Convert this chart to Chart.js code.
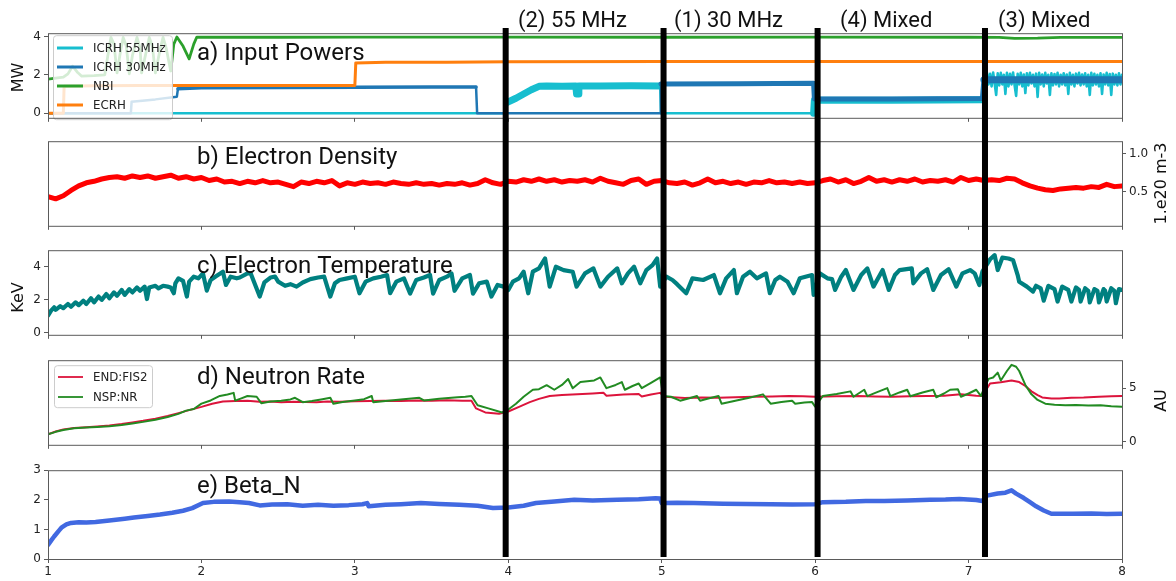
<!DOCTYPE html>
<html>
<head>
<meta charset="utf-8">
<script src="https://cdn.jsdelivr.net/npm/chart.js@4.4.1/dist/chart.umd.min.js"></script>
<style>
  html, body { margin: 0; padding: 0; background: #ffffff; }
  #wrap { position: relative; width: 1176px; height: 581px; overflow: hidden; background: #ffffff; }
  #wrap canvas { position: absolute; left: 0; }
</style>
</head>
<body>
<div id="wrap">
  <canvas id="pa" width="1176" height="105" style="top:23px"></canvas>
  <canvas id="pb" width="1176" height="105" style="top:131px"></canvas>
  <canvas id="pc" width="1176" height="105" style="top:240px"></canvas>
  <canvas id="pd" width="1176" height="105" style="top:350px"></canvas>
  <canvas id="pe" width="1176" height="121" style="top:460px"></canvas>
  <canvas id="ov" width="1176" height="581" style="top:0px"></canvas>
</div>
<script>
// ---------------- data ----------------
const xTicks = [1, 2, 3, 4, 5, 6, 7, 8];

const modeLabels = ['(2) 55 MHz', '(1) 30 MHz', '(4) Mixed', '(3) Mixed'];
const modeLineX = [3.983, 5.012, 6.016, 7.107];
const modeLabelX = [4.063, 5.080, 6.162, 7.192];

// a) input powers (MW)
const icrh55 = [[1.00,0],[3.985,0],[3.99,0.55],[4.05,0.78],[4.10,1.00],[4.15,1.22],[4.20,1.40],[4.25,1.42],[4.35,1.40],[4.44,1.42],[4.445,1.00],[4.455,1.00],[4.46,1.42],[4.60,1.42],[4.80,1.43],[4.99,1.42],[4.995,0],[5.99,0],[5.995,0.68],[6.50,0.68],[7.09,0.70],
  [7.10,0.70],[7.105,1.90],[7.11,1.45],[7.12,2.10],[7.13,1.50],[7.14,2.05],[7.15,1.40],[7.16,2.12],[7.17,1.55],[7.18,0.95],[7.19,2.08],[7.20,1.45],[7.21,2.10],[7.22,1.50],[7.23,2.00],[7.24,1.00],[7.25,2.10],[7.26,1.40],[7.27,2.05],[7.28,1.50],[7.29,2.12],[7.30,1.45],[7.31,0.90],[7.32,2.05],[7.33,1.50],[7.34,2.10],[7.35,1.40],[7.36,2.02],[7.37,1.05],[7.38,2.08],[7.39,1.45],[7.40,2.10],[7.41,1.55],[7.42,2.00],[7.43,1.40],[7.44,2.06],[7.45,0.85],[7.46,2.10],[7.47,1.50],[7.48,2.02],[7.49,1.40],[7.50,2.10],[7.51,1.55],[7.52,2.00],[7.53,0.95],[7.54,2.08],[7.55,1.45],[7.56,2.04],[7.57,1.50],[7.58,2.10],[7.59,1.40],[7.60,2.00],[7.61,1.50],[7.62,2.08],[7.63,1.45],[7.64,2.02],[7.65,1.00],[7.66,2.10],[7.67,1.50],[7.68,2.00],[7.69,1.40],[7.70,2.06],[7.71,1.55],[7.72,2.10],[7.73,1.45],[7.74,2.02],[7.75,1.50],[7.76,2.08],[7.77,1.40],[7.78,2.00],[7.79,0.95],[7.80,2.10],[7.81,1.45],[7.82,2.05],[7.83,1.50],[7.84,2.00],[7.85,1.40],[7.86,2.08],[7.87,1.00],[7.88,2.02],[7.89,1.50],[7.90,2.10],[7.91,1.45],[7.92,2.04],[7.93,0.95],[7.94,2.06],[7.95,1.50],[7.96,2.00],[7.97,1.45],[7.98,2.08],[7.99,1.50],[8.00,2.00]];
const icrh30 = [[1.00,0],[1.54,0],[1.545,0.60],[1.70,0.72],[1.84,0.86],[1.847,1.28],[2.00,1.32],[2.50,1.34],[3.00,1.35],[3.50,1.36],[3.79,1.36],[3.797,0],[4.99,0],[4.995,1.52],[5.50,1.54],[5.99,1.56],[5.995,0.74],[6.50,0.74],[7.09,0.76],[7.10,1.74],[7.50,1.74],[8.00,1.74]];
const nbi = [[1.00,1.78],[1.05,1.83],[1.10,1.88],[1.13,2.05],[1.16,2.45],[1.19,2.15],[1.22,1.93],[1.30,1.96],[1.37,2.00],[1.39,3.00],[1.41,3.95],[1.43,3.60],[1.45,2.10],[1.47,3.10],[1.49,3.95],[1.51,3.50],[1.53,2.05],[1.55,3.00],[1.58,3.95],[1.60,3.40],[1.61,2.10],[1.64,3.20],[1.66,3.95],[1.68,3.50],[1.70,2.10],[1.73,3.30],[1.75,3.95],[1.77,3.40],[1.80,2.20],[1.82,3.60],[1.84,3.97],[1.88,3.50],[1.92,2.83],[1.95,3.60],[1.97,3.97],[2.50,3.96],[3.00,3.97],[4.00,3.97],[5.00,3.96],[6.00,3.97],[7.00,3.96],[7.20,3.95],[7.30,3.90],[7.45,3.91],[7.60,3.95],[8.00,3.95]];
const ecrh = [[1.00,0],[1.10,0],[1.105,1.40],[1.30,1.43],[1.60,1.45],[2.00,1.44],[2.50,1.45],[3.00,1.45],[3.006,2.62],[3.20,2.65],[3.60,2.66],[4.00,2.68],[5.00,2.70],[6.00,2.69],[7.00,2.70],[8.00,2.70]];

// b) electron density (1.e20 m-3)
const ne = [[1.00,0.44],[1.05,0.41],[1.10,0.45],[1.15,0.52],[1.20,0.58],[1.25,0.62],[1.30,0.64],[1.35,0.67],[1.40,0.69],[1.45,0.70],[1.50,0.68],[1.55,0.71],[1.60,0.69],[1.65,0.71],[1.70,0.68],[1.75,0.70],[1.80,0.72],[1.85,0.68],[1.90,0.70],[1.95,0.67],[2.00,0.69],[2.05,0.65],[2.10,0.67],[2.15,0.63],[2.20,0.64],[2.25,0.61],[2.30,0.64],[2.35,0.62],[2.40,0.65],[2.45,0.62],[2.50,0.63],[2.55,0.60],[2.60,0.57],[2.65,0.63],[2.70,0.61],[2.75,0.64],[2.80,0.62],[2.85,0.65],[2.90,0.58],[2.95,0.62],[3.00,0.60],[3.05,0.63],[3.10,0.61],[3.15,0.62],[3.20,0.60],[3.25,0.63],[3.30,0.61],[3.35,0.60],[3.40,0.62],[3.45,0.60],[3.50,0.61],[3.55,0.59],[3.60,0.61],[3.65,0.60],[3.70,0.62],[3.75,0.59],[3.80,0.61],[3.85,0.66],[3.90,0.62],[3.95,0.60],[4.00,0.64],[4.05,0.63],[4.10,0.66],[4.15,0.64],[4.20,0.67],[4.25,0.64],[4.30,0.66],[4.35,0.63],[4.40,0.65],[4.45,0.64],[4.50,0.66],[4.55,0.63],[4.60,0.68],[4.65,0.64],[4.70,0.62],[4.75,0.60],[4.80,0.65],[4.85,0.67],[4.90,0.60],[4.95,0.64],[5.00,0.65],[5.05,0.62],[5.10,0.61],[5.15,0.63],[5.20,0.59],[5.25,0.62],[5.30,0.67],[5.35,0.62],[5.40,0.64],[5.45,0.61],[5.50,0.63],[5.55,0.60],[5.60,0.63],[5.65,0.62],[5.70,0.65],[5.75,0.62],[5.80,0.63],[5.85,0.61],[5.90,0.63],[5.95,0.61],[6.00,0.62],[6.05,0.65],[6.10,0.67],[6.15,0.63],[6.20,0.66],[6.25,0.61],[6.30,0.64],[6.35,0.69],[6.40,0.64],[6.45,0.66],[6.50,0.63],[6.55,0.66],[6.60,0.64],[6.65,0.67],[6.70,0.63],[6.75,0.65],[6.80,0.64],[6.85,0.66],[6.90,0.63],[6.95,0.69],[7.00,0.65],[7.05,0.67],[7.10,0.65],[7.15,0.66],[7.20,0.65],[7.25,0.68],[7.30,0.67],[7.35,0.62],[7.40,0.58],[7.45,0.55],[7.50,0.53],[7.55,0.52],[7.60,0.54],[7.65,0.55],[7.70,0.56],[7.75,0.55],[7.80,0.57],[7.85,0.56],[7.90,0.60],[7.95,0.57],[8.00,0.58]];

// c) electron temperature (KeV)
const te = [[1.00,1.05],[1.02,1.35],[1.04,1.55],[1.05,1.40],[1.08,1.62],[1.10,1.50],[1.13,1.75],[1.15,1.58],[1.18,1.85],[1.20,1.68],[1.23,1.95],[1.25,1.75],[1.28,2.10],[1.30,1.85],[1.33,2.20],[1.35,2.00],[1.38,2.35],[1.40,2.10],[1.43,2.45],[1.45,2.25],[1.48,2.60],[1.50,2.30],[1.53,2.65],[1.55,2.45],[1.58,2.75],[1.60,2.55],[1.63,2.80],[1.645,2.05],[1.66,2.75],[1.70,2.85],[1.72,2.70],[1.75,2.85],[1.78,2.80],[1.80,2.75],[1.82,2.40],[1.83,3.00],[1.85,3.30],[1.88,3.15],[1.905,2.20],[1.92,3.10],[1.95,3.40],[1.98,3.30],[2.01,3.60],[2.035,2.56],[2.06,3.20],[2.10,3.45],[2.14,3.70],[2.16,2.90],[2.19,3.40],[2.23,3.30],[2.25,3.35],[2.30,3.60],[2.32,3.62],[2.38,2.20],[2.41,3.05],[2.45,3.35],[2.48,3.40],[2.50,3.10],[2.545,2.85],[2.58,2.95],[2.62,2.80],[2.66,3.05],[2.71,3.25],[2.76,3.35],[2.80,3.40],[2.84,2.20],[2.87,3.00],[2.90,3.20],[2.95,3.30],[3.00,3.40],[3.03,2.40],[3.07,3.10],[3.12,3.30],[3.17,3.40],[3.21,3.50],[3.23,2.40],[3.27,3.10],[3.32,3.30],[3.36,2.38],[3.40,3.20],[3.45,3.35],[3.49,3.50],[3.51,2.38],[3.55,3.20],[3.60,3.40],[3.63,3.60],[3.65,2.55],[3.70,3.30],[3.75,3.50],[3.77,2.38],[3.81,3.00],[3.86,3.10],[3.89,2.20],[3.93,2.90],[3.97,2.80],[4.00,2.60],[4.03,3.10],[4.07,3.30],[4.10,3.70],[4.13,2.40],[4.16,3.70],[4.20,3.90],[4.24,4.50],[4.27,2.80],[4.31,4.00],[4.36,3.80],[4.42,3.70],[4.445,2.80],[4.50,3.60],[4.555,3.90],[4.60,2.80],[4.65,3.40],[4.71,3.90],[4.74,3.00],[4.78,3.60],[4.82,4.00],[4.86,3.00],[4.90,3.80],[4.94,4.10],[4.97,4.50],[4.99,2.80],[5.03,3.40],[5.07,3.20],[5.10,2.95],[5.16,2.40],[5.20,3.30],[5.27,3.20],[5.34,3.50],[5.38,2.40],[5.42,3.30],[5.47,3.80],[5.49,2.40],[5.53,3.40],[5.575,3.70],[5.62,3.30],[5.68,3.60],[5.705,2.40],[5.74,3.20],[5.77,3.40],[5.82,3.10],[5.86,2.40],[5.90,3.30],[5.98,3.50],[5.99,2.30],[6.03,3.60],[6.08,3.30],[6.11,3.25],[6.13,2.60],[6.17,3.40],[6.20,3.80],[6.25,2.60],[6.30,3.50],[6.34,3.90],[6.38,2.80],[6.44,3.80],[6.48,2.60],[6.52,3.50],[6.55,3.80],[6.63,3.90],[6.64,3.00],[6.69,3.60],[6.73,3.85],[6.77,2.60],[6.82,3.50],[6.87,3.85],[6.92,2.80],[6.96,3.60],[7.01,3.80],[7.04,3.60],[7.07,2.90],[7.09,3.70],[7.14,4.45],[7.17,4.70],[7.19,3.80],[7.22,4.55],[7.26,4.50],[7.29,4.40],[7.32,3.50],[7.33,3.10],[7.38,2.80],[7.42,2.50],[7.44,2.85],[7.47,2.70],[7.49,1.95],[7.52,2.85],[7.56,2.65],[7.58,1.90],[7.61,2.80],[7.65,2.60],[7.67,1.90],[7.70,2.75],[7.72,2.60],[7.73,1.90],[7.76,2.70],[7.78,2.55],[7.79,1.85],[7.82,2.65],[7.84,2.55],[7.85,1.85],[7.88,2.65],[7.89,2.55],[7.90,1.90],[7.93,2.70],[7.95,2.55],[7.96,1.80],[7.98,2.65],[8.00,2.60]];

// d) neutron rate (AU)
const fis2 = [[1.00,0.70],[1.05,0.95],[1.10,1.15],[1.17,1.28],[1.25,1.35],[1.32,1.42],[1.40,1.51],[1.48,1.65],[1.55,1.80],[1.62,1.95],[1.70,2.15],[1.78,2.40],[1.85,2.67],[1.92,2.95],[2.00,3.25],[2.07,3.55],[2.14,3.75],[2.22,3.80],[2.30,3.83],[2.38,3.72],[2.45,3.76],[2.52,3.69],[2.60,3.74],[2.68,3.70],[2.75,3.69],[2.82,3.75],[2.90,3.72],[3.00,3.78],[3.10,3.80],[3.19,3.83],[3.30,3.80],[3.40,3.85],[3.50,3.82],[3.60,3.86],[3.70,3.83],[3.76,3.83],[3.79,3.11],[3.85,2.73],[3.94,2.61],[4.00,2.82],[4.07,3.25],[4.14,3.69],[4.20,4.00],[4.27,4.27],[4.35,4.35],[4.45,4.42],[4.55,4.50],[4.62,4.56],[4.64,4.30],[4.75,4.40],[4.85,4.45],[4.87,4.22],[4.93,4.40],[4.99,4.56],[5.02,4.20],[5.15,4.07],[5.26,4.12],[5.37,4.10],[5.48,4.15],[5.60,4.20],[5.72,4.22],[5.83,4.27],[5.92,4.25],[6.00,4.20],[6.14,4.25],[6.28,4.27],[6.39,4.22],[6.50,4.20],[6.62,4.25],[6.73,4.27],[6.84,4.30],[6.95,4.42],[7.05,4.30],[7.09,4.27],[7.14,5.43],[7.21,5.55],[7.28,5.72],[7.33,5.57],[7.37,5.20],[7.41,4.70],[7.45,4.35],[7.48,4.13],[7.54,4.04],[7.59,4.04],[7.67,4.10],[7.75,4.13],[7.85,4.20],[7.93,4.25],[8.00,4.27]];
const nspnr = [[1.00,0.68],[1.05,0.92],[1.10,1.10],[1.17,1.25],[1.25,1.33],[1.32,1.38],[1.40,1.45],[1.48,1.55],[1.55,1.70],[1.62,1.85],[1.70,2.05],[1.78,2.30],[1.85,2.60],[1.90,2.90],[1.95,3.05],[2.00,3.55],[2.06,3.85],[2.12,4.27],[2.17,4.40],[2.21,4.56],[2.22,3.83],[2.26,4.05],[2.30,4.27],[2.36,4.20],[2.39,3.60],[2.45,3.75],[2.52,3.83],[2.58,3.95],[2.61,4.10],[2.66,3.69],[2.72,3.80],[2.78,3.95],[2.84,4.10],[2.86,3.55],[2.92,3.70],[3.00,3.85],[3.06,3.97],[3.11,4.27],[3.12,3.69],[3.20,3.80],[3.30,3.95],[3.42,4.10],[3.45,3.85],[3.55,4.00],[3.67,4.15],[3.72,4.20],[3.76,4.27],[3.80,3.40],[3.87,3.11],[3.96,2.73],[4.00,3.00],[4.05,3.55],[4.10,4.20],[4.16,4.85],[4.20,4.90],[4.25,5.28],[4.30,4.85],[4.35,5.30],[4.39,5.85],[4.42,4.99],[4.47,5.57],[4.56,5.72],[4.60,6.00],[4.64,5.00],[4.70,5.30],[4.74,5.57],[4.76,4.85],[4.81,5.20],[4.85,5.43],[4.87,5.00],[4.93,5.50],[4.99,6.00],[5.01,4.27],[5.06,4.20],[5.12,3.83],[5.18,4.05],[5.23,4.27],[5.25,3.83],[5.31,4.05],[5.37,4.27],[5.39,3.55],[5.48,3.83],[5.57,4.10],[5.66,4.42],[5.71,3.55],[5.78,3.70],[5.85,3.83],[5.87,3.55],[5.93,3.65],[5.98,3.70],[6.00,3.27],[6.05,4.27],[6.14,4.45],[6.23,4.70],[6.25,4.20],[6.32,4.85],[6.34,4.25],[6.40,4.60],[6.47,5.00],[6.49,4.25],[6.55,4.60],[6.60,4.85],[6.62,4.25],[6.70,4.60],[6.77,4.85],[6.79,4.15],[6.84,4.50],[6.88,4.85],[6.93,4.90],[6.95,4.20],[7.00,4.50],[7.05,4.85],[7.08,4.27],[7.13,5.87],[7.16,6.00],[7.19,6.45],[7.21,5.72],[7.25,6.60],[7.28,7.18],[7.31,7.00],[7.33,6.60],[7.37,5.30],[7.41,4.42],[7.45,3.90],[7.50,3.55],[7.56,3.45],[7.63,3.40],[7.70,3.42],[7.78,3.38],[7.86,3.40],[7.93,3.30],[8.00,3.27]];

// e) Beta_N
const betaN = [[1.00,0.47],[1.02,0.62],[1.04,0.76],[1.07,0.95],[1.09,1.07],[1.12,1.17],[1.15,1.22],[1.20,1.24],[1.25,1.23],[1.31,1.25],[1.40,1.30],[1.50,1.36],[1.56,1.40],[1.65,1.45],[1.73,1.50],[1.81,1.56],[1.88,1.63],[1.94,1.72],[2.01,1.89],[2.08,1.93],[2.18,1.94],[2.25,1.92],[2.31,1.89],[2.38,1.81],[2.46,1.84],[2.56,1.85],[2.66,1.80],[2.76,1.83],[2.86,1.80],[2.96,1.82],[3.05,1.85],[3.08,1.89],[3.09,1.78],[3.20,1.83],[3.30,1.85],[3.43,1.89],[3.55,1.86],[3.68,1.83],[3.80,1.80],[3.90,1.72],[4.00,1.74],[4.10,1.80],[4.18,1.89],[4.30,1.94],[4.43,2.00],[4.55,1.98],[4.71,2.00],[4.85,2.02],[4.96,2.05],[4.99,2.04],[5.00,1.89],[5.10,1.90],[5.21,1.89],[5.40,1.87],[5.55,1.86],[5.71,1.85],[5.85,1.84],[6.00,1.85],[6.05,1.92],[6.20,1.93],[6.33,1.96],[6.45,1.96],[6.60,1.98],[6.75,2.00],[6.85,2.01],[6.94,2.03],[7.05,1.99],[7.09,1.96],[7.12,2.14],[7.19,2.21],[7.24,2.24],[7.28,2.32],[7.31,2.21],[7.36,2.06],[7.40,1.92],[7.44,1.78],[7.49,1.64],[7.54,1.53],[7.60,1.53],[7.68,1.53],[7.80,1.54],[7.90,1.52],[8.00,1.53]];

const ticksA = [0, 2, 4];
const ticksB = [0.5, 1.0];
const ticksC = [0, 2, 4];
const ticksD = [0, 5];
const ticksE = [0, 1, 2, 3];

// ---------------- rendering ----------------
const AXIS = '#5a5a5a', TXT = '#222222';
Chart.defaults.font.family = "'DejaVu Sans', sans-serif";
Chart.defaults.font.size = 12;
Chart.defaults.color = TXT;

const pts = arr => arr.map(p => ({ x: p[0], y: p[1] }));

const deco = {
  id: 'deco',
  afterDatasetsDraw(chart, args, o) {
    const ctx = chart.ctx, ca = chart.chartArea, xs = chart.scales.x;
    ctx.save();
    if (o.title) {
      ctx.font = '24px Roboto';
      ctx.fillStyle = '#111111';
      ctx.textAlign = 'left';
      ctx.textBaseline = 'alphabetic';
      ctx.fillText(o.title, xs.getPixelForValue(o.titleX), ca.top + o.titleDy);
    }
    if (o.labels) {
      ctx.font = '22px Roboto';
      ctx.fillStyle = '#111111';
      ctx.textAlign = 'left';
      ctx.textBaseline = 'alphabetic';
      for (let i = 0; i < o.labels.length; i++) {
        ctx.fillText(o.labels[i], xs.getPixelForValue(o.labelX[i]), o.labelY);
      }
    }
    if (o.legend) {
      const L = o.legend;
      const x0 = ca.left + L.dx, y0 = ca.top + L.dy;
      ctx.beginPath();
      if (ctx.roundRect) ctx.roundRect(x0 + 0.5, y0 + 0.5, L.w, L.h, 3); else ctx.rect(x0 + 0.5, y0 + 0.5, L.w, L.h);
      ctx.fillStyle = 'rgba(255,255,255,0.8)';
      ctx.fill();
      ctx.strokeStyle = '#cccccc';
      ctx.lineWidth = 1;
      ctx.stroke();
      ctx.font = "11.8px 'DejaVu Sans'";
      ctx.textAlign = 'left';
      ctx.textBaseline = 'middle';
      chart.data.datasets.forEach((d, i) => {
        const cy = Math.round(y0 + L.first + i * L.step);
        ctx.strokeStyle = d.borderColor;
        ctx.lineWidth = L.lw;
        ctx.lineCap = 'butt';
        ctx.beginPath();
        ctx.moveTo(x0 + L.l0, cy);
        ctx.lineTo(x0 + L.l1, cy);
        ctx.stroke();
        ctx.fillStyle = TXT;
        ctx.fillText(d.label, x0 + L.tx, cy + 0.5);
      });
    }
    ctx.restore();
  },
  afterDraw(chart, args, o) {
    const ctx = chart.ctx, ca = chart.chartArea;
    ctx.save();
    if (o.frame) {
      ctx.strokeStyle = AXIS;
      ctx.lineWidth = 1;
      ctx.strokeRect(ca.left + 0.5, ca.top + 0.5, ca.right - ca.left, ca.bottom - ca.top);
    }
    if (o.axisTitle) {
      const A = o.axisTitle;
      ctx.translate(A.x, (ca.top + ca.bottom) / 2 + A.dy);
      ctx.rotate(-Math.PI / 2);
      ctx.font = A.size + "px 'DejaVu Sans'";
      ctx.fillStyle = '#111111';
      ctx.textAlign = 'center';
      ctx.textBaseline = 'middle';
      ctx.fillText(A.text, 0, 0);
    }
    ctx.restore();
  }
};
Chart.register(deco);

function makePanel(id, cfg) {
  const left = cfg.side === 'left';
  // later series drawn on top (matplotlib order)
  cfg.datasets.forEach((d, i) => { d.order = -i; });
  return new Chart(document.getElementById(id), {
    type: 'line',
    data: { datasets: cfg.datasets },
    options: {
      responsive: false, animation: false, events: [],
      layout: { padding: { left: left ? 0 : 48, right: left ? 54 : 0, top: 8, bottom: 0 } },
      elements: { point: { radius: 0 }, line: { tension: 0, borderJoinStyle: 'round', borderCapStyle: 'round' } },
      scales: {
        x: {
          type: 'linear', min: 1, max: 8, bounds: 'data',
          afterBuildTicks: s => { s.ticks = xTicks.map(v => ({ value: v })); },
          afterFit: s => { s.height = cfg.xLabels ? 22 : 6; },
          ticks: { display: !!cfg.xLabels, padding: 2, color: TXT, font: { size: 12 }, maxRotation: 0, autoSkip: false },
          grid: { drawOnChartArea: false, drawTicks: true, tickLength: 4, color: AXIS },
          border: { display: false }
        },
        y: {
          type: 'linear', position: cfg.side, min: cfg.yMin, max: cfg.yMax, bounds: 'data',
          afterBuildTicks: s => { s.ticks = cfg.yTicks.map(v => ({ value: v })); },
          afterFit: s => { s.width = left ? 48 : 54; },
          ticks: { padding: 3, color: TXT, font: { size: 12 }, callback: v => (cfg.fmt1 ? v.toFixed(1) : String(v)) },
          grid: { drawOnChartArea: false, drawTicks: true, tickLength: 4, color: AXIS },
          border: { display: false }
        }
      },
      plugins: {
        legend: { display: false },
        tooltip: { enabled: false },
        deco: cfg.deco
      }
    }
  });
}

const lineDs = (label, arr, color, width, extra) => Object.assign({
  label: label, data: pts(arr), borderColor: color, backgroundColor: color,
  borderWidth: width, pointRadius: 0, fill: false
}, extra || {});

// a) Input Powers
makePanel('pa', {
  side: 'left', yMin: -0.24, yMax: 4.17, yTicks: ticksA,
  datasets: [
    lineDs('ICRH 55MHz', icrh55, '#17becf', 2.5, { segment: { borderWidth: c => {
      const x = c.p0.parsed.x;
      if (x >= 7.1) return 2.6;
      if (x >= 5.99) return 7;
      if (x >= 3.99 && x < 4.99) return 7;
      return 2.5;
    } } }),
    lineDs('ICRH 30MHz', icrh30, '#1f77b4', 2.5, { segment: { borderWidth: c => {
      const x = c.p0.parsed.x;
      if (x >= 7.1) return 7;
      if (x >= 4.995) return 5;
      if (x >= 1.847 && x < 3.79) return 3.5;
      return 2.5;
    } } }),
    lineDs('NBI', nbi, '#2ca02c', 2.8),
    lineDs('ECRH', ecrh, '#ff7f0e', 3)
  ],
  deco: {
    frame: true, title: 'a) Input Powers', titleX: 1.971, titleDy: 26.8,
    axisTitle: { text: 'MW', x: 18.5, dy: 2, size: 16 },
    legend: { dx: 5, dy: 2, w: 119, h: 84, first: 13, step: 18.9, l0: 4, l1: 30, tx: 40, lw: 3 }
  }
});

// b) Electron Density
makePanel('pb', {
  side: 'right', yMin: 0.057, yMax: 1.165, yTicks: ticksB, fmt1: true,
  datasets: [ lineDs('Electron Density', ne, '#ff0000', 5) ],
  deco: {
    frame: true, title: 'b) Electron Density', titleX: 1.971, titleDy: 22.4,
    axisTitle: { text: '1.e20 m-3', x: 1162, dy: 0, size: 16 }
  }
});

// c) Electron Temperature
makePanel('pc', {
  side: 'left', yMin: -0.11, yMax: 5.0, yTicks: ticksC,
  datasets: [ lineDs('Electron Temperature', te, '#008080', 4.2) ],
  deco: {
    frame: true, title: 'c) Electron Temperature', titleX: 1.971, titleDy: 22.7,
    axisTitle: { text: 'KeV', x: 18.5, dy: 5, size: 16 }
  }
});

// d) Neutron Rate
makePanel('pd', {
  side: 'right', yMin: -0.29, yMax: 7.61, yTicks: ticksD,
  datasets: [
    lineDs('END:FIS2', fis2, '#dc143c', 2),
    lineDs('NSP:NR', nspnr, '#228b22', 2)
  ],
  deco: {
    frame: true, title: 'd) Neutron Rate', titleX: 1.971, titleDy: 23.4,
    axisTitle: { text: 'AU', x: 1162, dy: -2, size: 16 },
    legend: { dx: 6, dy: 5, w: 98, h: 42, first: 12, step: 19.3, l0: 4, l1: 29, tx: 39, lw: 1.8 }
  }
});

// e) Beta_N
makePanel('pe', {
  side: 'left', yMin: 0, yMax: 3, yTicks: ticksE, xLabels: true,
  datasets: [ lineDs('Beta_N', betaN, '#4169e1', 4.5) ],
  deco: { frame: true, title: 'e) Beta_N', titleX: 1.971, titleDy: 23 }
});

// overlay: heating-mode separators and labels
new Chart(document.getElementById('ov'), {
  type: 'line',
  data: {
    datasets: modeLineX.map(x => ({
      label: '', data: [{ x: x, y: 0 }, { x: x, y: 1 }],
      borderColor: '#000000', borderWidth: 6, pointRadius: 0, borderCapStyle: 'butt', fill: false
    }))
  },
  options: {
    responsive: false, animation: false, events: [],
    layout: { padding: { left: 48, right: 54, top: 28, bottom: 24 } },
    scales: {
      x: { type: 'linear', min: 1, max: 8, display: false },
      y: { type: 'linear', min: 0, max: 1, display: false }
    },
    plugins: {
      legend: { display: false },
      tooltip: { enabled: false },
      deco: { labels: modeLabels, labelX: modeLabelX, labelY: 27 }
    }
  }
});
</script>
</body>
</html>
